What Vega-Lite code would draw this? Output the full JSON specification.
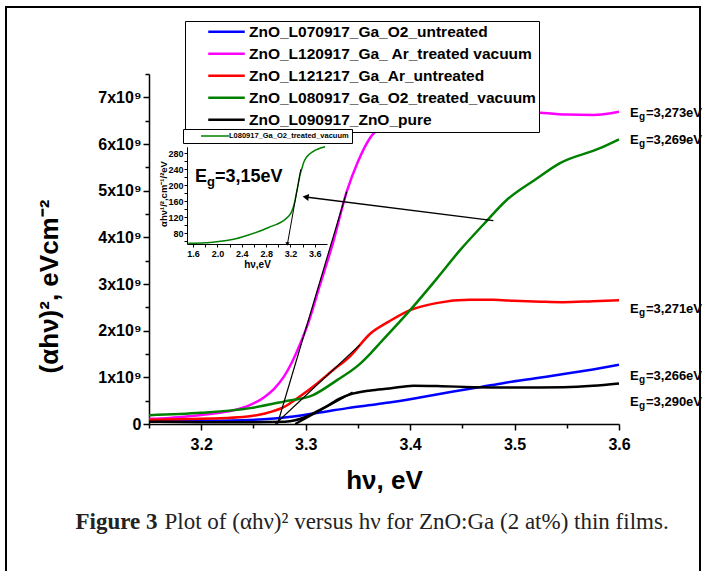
{
  "$schema": "https://vega.github.io/schema/vega-lite/v6.json",
  "width": 470,
  "height": 350,
  "autosize": {"type": "none"},
  "padding": {"left": 149, "top": 74, "right": 87, "bottom": 147},
  "config": {"view": {"stroke": null}, "font": "Liberation Sans"},
  "datasets": {
    "main": [
      {"s":"ZnO_L070917_Ga_O2_untreated","hv":3.15,"v":0.06e9},
      {"s":"ZnO_L070917_Ga_O2_untreated","hv":3.18,"v":0.065e9},
      {"s":"ZnO_L070917_Ga_O2_untreated","hv":3.21,"v":0.07e9},
      {"s":"ZnO_L070917_Ga_O2_untreated","hv":3.24,"v":0.08e9},
      {"s":"ZnO_L070917_Ga_O2_untreated","hv":3.26,"v":0.10e9},
      {"s":"ZnO_L070917_Ga_O2_untreated","hv":3.28,"v":0.14e9},
      {"s":"ZnO_L070917_Ga_O2_untreated","hv":3.30,"v":0.20e9},
      {"s":"ZnO_L070917_Ga_O2_untreated","hv":3.32,"v":0.27e9},
      {"s":"ZnO_L070917_Ga_O2_untreated","hv":3.34,"v":0.34e9},
      {"s":"ZnO_L070917_Ga_O2_untreated","hv":3.36,"v":0.40e9},
      {"s":"ZnO_L070917_Ga_O2_untreated","hv":3.38,"v":0.46e9},
      {"s":"ZnO_L070917_Ga_O2_untreated","hv":3.40,"v":0.53e9},
      {"s":"ZnO_L070917_Ga_O2_untreated","hv":3.42,"v":0.61e9},
      {"s":"ZnO_L070917_Ga_O2_untreated","hv":3.44,"v":0.69e9},
      {"s":"ZnO_L070917_Ga_O2_untreated","hv":3.467,"v":0.79e9},
      {"s":"ZnO_L070917_Ga_O2_untreated","hv":3.49,"v":0.88e9},
      {"s":"ZnO_L070917_Ga_O2_untreated","hv":3.52,"v":0.98e9},
      {"s":"ZnO_L070917_Ga_O2_untreated","hv":3.55,"v":1.08e9},
      {"s":"ZnO_L070917_Ga_O2_untreated","hv":3.575,"v":1.17e9},
      {"s":"ZnO_L070917_Ga_O2_untreated","hv":3.6,"v":1.27e9},
      {"s":"ZnO_L120917_Ga_ Ar_treated vacuum","hv":3.15,"v":0.11e9},
      {"s":"ZnO_L120917_Ga_ Ar_treated vacuum","hv":3.17,"v":0.13e9},
      {"s":"ZnO_L120917_Ga_ Ar_treated vacuum","hv":3.19,"v":0.17e9},
      {"s":"ZnO_L120917_Ga_ Ar_treated vacuum","hv":3.21,"v":0.22e9},
      {"s":"ZnO_L120917_Ga_ Ar_treated vacuum","hv":3.23,"v":0.29e9},
      {"s":"ZnO_L120917_Ga_ Ar_treated vacuum","hv":3.247,"v":0.41e9},
      {"s":"ZnO_L120917_Ga_ Ar_treated vacuum","hv":3.26,"v":0.57e9},
      {"s":"ZnO_L120917_Ga_ Ar_treated vacuum","hv":3.27,"v":0.76e9},
      {"s":"ZnO_L120917_Ga_ Ar_treated vacuum","hv":3.279,"v":1.01e9},
      {"s":"ZnO_L120917_Ga_ Ar_treated vacuum","hv":3.287,"v":1.33e9},
      {"s":"ZnO_L120917_Ga_ Ar_treated vacuum","hv":3.295,"v":1.73e9},
      {"s":"ZnO_L120917_Ga_ Ar_treated vacuum","hv":3.303,"v":2.2e9},
      {"s":"ZnO_L120917_Ga_ Ar_treated vacuum","hv":3.3137,"v":2.98e9},
      {"s":"ZnO_L120917_Ga_ Ar_treated vacuum","hv":3.326,"v":3.87e9},
      {"s":"ZnO_L120917_Ga_ Ar_treated vacuum","hv":3.3393,"v":4.98e9},
      {"s":"ZnO_L120917_Ga_ Ar_treated vacuum","hv":3.35,"v":5.62e9},
      {"s":"ZnO_L120917_Ga_ Ar_treated vacuum","hv":3.3616,"v":6.13e9},
      {"s":"ZnO_L120917_Ga_ Ar_treated vacuum","hv":3.375,"v":6.42e9},
      {"s":"ZnO_L120917_Ga_ Ar_treated vacuum","hv":3.39,"v":6.58e9},
      {"s":"ZnO_L120917_Ga_ Ar_treated vacuum","hv":3.42,"v":6.7e9},
      {"s":"ZnO_L120917_Ga_ Ar_treated vacuum","hv":3.46,"v":6.74e9},
      {"s":"ZnO_L120917_Ga_ Ar_treated vacuum","hv":3.49,"v":6.72e9},
      {"s":"ZnO_L120917_Ga_ Ar_treated vacuum","hv":3.52,"v":6.68e9},
      {"s":"ZnO_L120917_Ga_ Ar_treated vacuum","hv":3.55,"v":6.63e9},
      {"s":"ZnO_L120917_Ga_ Ar_treated vacuum","hv":3.575,"v":6.62e9},
      {"s":"ZnO_L120917_Ga_ Ar_treated vacuum","hv":3.6,"v":6.69e9},
      {"s":"ZnO_L121217_Ga_Ar_untreated","hv":3.15,"v":0.09e9},
      {"s":"ZnO_L121217_Ga_Ar_untreated","hv":3.18,"v":0.10e9},
      {"s":"ZnO_L121217_Ga_Ar_untreated","hv":3.21,"v":0.12e9},
      {"s":"ZnO_L121217_Ga_Ar_untreated","hv":3.24,"v":0.15e9},
      {"s":"ZnO_L121217_Ga_Ar_untreated","hv":3.26,"v":0.22e9},
      {"s":"ZnO_L121217_Ga_Ar_untreated","hv":3.279,"v":0.36e9},
      {"s":"ZnO_L121217_Ga_Ar_untreated","hv":3.295,"v":0.6e9},
      {"s":"ZnO_L121217_Ga_Ar_untreated","hv":3.311,"v":0.87e9},
      {"s":"ZnO_L121217_Ga_Ar_untreated","hv":3.326,"v":1.15e9},
      {"s":"ZnO_L121217_Ga_Ar_untreated","hv":3.342,"v":1.44e9},
      {"s":"ZnO_L121217_Ga_Ar_untreated","hv":3.362,"v":1.94e9},
      {"s":"ZnO_L121217_Ga_Ar_untreated","hv":3.38,"v":2.2e9},
      {"s":"ZnO_L121217_Ga_Ar_untreated","hv":3.4,"v":2.44e9},
      {"s":"ZnO_L121217_Ga_Ar_untreated","hv":3.425,"v":2.59e9},
      {"s":"ZnO_L121217_Ga_Ar_untreated","hv":3.457,"v":2.66e9},
      {"s":"ZnO_L121217_Ga_Ar_untreated","hv":3.48,"v":2.66e9},
      {"s":"ZnO_L121217_Ga_Ar_untreated","hv":3.499,"v":2.64e9},
      {"s":"ZnO_L121217_Ga_Ar_untreated","hv":3.525,"v":2.62e9},
      {"s":"ZnO_L121217_Ga_Ar_untreated","hv":3.546,"v":2.61e9},
      {"s":"ZnO_L121217_Ga_Ar_untreated","hv":3.575,"v":2.63e9},
      {"s":"ZnO_L121217_Ga_Ar_untreated","hv":3.6,"v":2.65e9},
      {"s":"ZnO_L080917_Ga_O2_treated_vacuum","hv":3.15,"v":0.19e9},
      {"s":"ZnO_L080917_Ga_O2_treated_vacuum","hv":3.2,"v":0.24e9},
      {"s":"ZnO_L080917_Ga_O2_treated_vacuum","hv":3.247,"v":0.34e9},
      {"s":"ZnO_L080917_Ga_O2_treated_vacuum","hv":3.279,"v":0.48e9},
      {"s":"ZnO_L080917_Ga_O2_treated_vacuum","hv":3.307,"v":0.62e9},
      {"s":"ZnO_L080917_Ga_O2_treated_vacuum","hv":3.33,"v":0.94e9},
      {"s":"ZnO_L080917_Ga_O2_treated_vacuum","hv":3.35,"v":1.25e9},
      {"s":"ZnO_L080917_Ga_O2_treated_vacuum","hv":3.362,"v":1.51e9},
      {"s":"ZnO_L080917_Ga_O2_treated_vacuum","hv":3.371,"v":1.73e9},
      {"s":"ZnO_L080917_Ga_O2_treated_vacuum","hv":3.4,"v":2.44e9},
      {"s":"ZnO_L080917_Ga_O2_treated_vacuum","hv":3.425,"v":3.1e9},
      {"s":"ZnO_L080917_Ga_O2_treated_vacuum","hv":3.448,"v":3.73e9},
      {"s":"ZnO_L080917_Ga_O2_treated_vacuum","hv":3.47,"v":4.27e9},
      {"s":"ZnO_L080917_Ga_O2_treated_vacuum","hv":3.4925,"v":4.80e9},
      {"s":"ZnO_L080917_Ga_O2_treated_vacuum","hv":3.52,"v":5.24e9},
      {"s":"ZnO_L080917_Ga_O2_treated_vacuum","hv":3.5435,"v":5.59e9},
      {"s":"ZnO_L080917_Ga_O2_treated_vacuum","hv":3.5818,"v":5.91e9},
      {"s":"ZnO_L080917_Ga_O2_treated_vacuum","hv":3.6,"v":6.10e9},
      {"s":"ZnO_L090917_ZnO_pure","hv":3.15,"v":0.05e9},
      {"s":"ZnO_L090917_ZnO_pure","hv":3.2,"v":0.04e9},
      {"s":"ZnO_L090917_ZnO_pure","hv":3.25,"v":0.04e9},
      {"s":"ZnO_L090917_ZnO_pure","hv":3.28,"v":0.05e9},
      {"s":"ZnO_L090917_ZnO_pure","hv":3.29,"v":0.08e9},
      {"s":"ZnO_L090917_ZnO_pure","hv":3.30,"v":0.15e9},
      {"s":"ZnO_L090917_ZnO_pure","hv":3.31,"v":0.26e9},
      {"s":"ZnO_L090917_ZnO_pure","hv":3.32,"v":0.38e9},
      {"s":"ZnO_L090917_ZnO_pure","hv":3.333,"v":0.55e9},
      {"s":"ZnO_L090917_ZnO_pure","hv":3.345,"v":0.65e9},
      {"s":"ZnO_L090917_ZnO_pure","hv":3.362,"v":0.72e9},
      {"s":"ZnO_L090917_ZnO_pure","hv":3.38,"v":0.76e9},
      {"s":"ZnO_L090917_ZnO_pure","hv":3.403,"v":0.82e9},
      {"s":"ZnO_L090917_ZnO_pure","hv":3.43,"v":0.81e9},
      {"s":"ZnO_L090917_ZnO_pure","hv":3.461,"v":0.79e9},
      {"s":"ZnO_L090917_ZnO_pure","hv":3.5,"v":0.78e9},
      {"s":"ZnO_L090917_ZnO_pure","hv":3.547,"v":0.79e9},
      {"s":"ZnO_L090917_ZnO_pure","hv":3.575,"v":0.82e9},
      {"s":"ZnO_L090917_ZnO_pure","hv":3.6,"v":0.87e9}
    ],
    "tangents": [
      {"seg":"m","w":1.2,"hv":3.273,"v":0},
      {"seg":"m","w":1.2,"hv":3.3393,"v":4.98e9},
      {"seg":"r","w":1.2,"hv":3.271,"v":0},
      {"seg":"r","w":1.2,"hv":3.352,"v":1.70e9},
      {"seg":"k","w":2,"hv":3.29,"v":0},
      {"seg":"k","w":2,"hv":3.345,"v":0.68e9}
    ],
    "arrow": [
      {"p":"tail","hv":3.4797,"v":4.356e9},
      {"p":"head","hv":3.300,"v":4.864e9}
    ],
    "labels": [
      {"hv":3.6,"v":6.67e9,"t":"=3,273eV"},
      {"hv":3.6,"v":6.085e9,"t":"=3,269eV"},
      {"hv":3.6,"v":2.458e9,"t":"=3,271eV"},
      {"hv":3.6,"v":1.03e9,"t":"=3,266eV"},
      {"hv":3.6,"v":0.478e9,"t":"=3,290eV"}
    ],
    "inset": [
      {"s":"L080917_Ga_O2_treated_vacuum","hv":1.52,"v":54.8},
      {"s":"L080917_Ga_O2_treated_vacuum","hv":1.8,"v":56},
      {"s":"L080917_Ga_O2_treated_vacuum","hv":1.99,"v":58.8},
      {"s":"L080917_Ga_O2_treated_vacuum","hv":2.15,"v":62},
      {"s":"L080917_Ga_O2_treated_vacuum","hv":2.32,"v":67},
      {"s":"L080917_Ga_O2_treated_vacuum","hv":2.5,"v":75},
      {"s":"L080917_Ga_O2_treated_vacuum","hv":2.7,"v":85.5},
      {"s":"L080917_Ga_O2_treated_vacuum","hv":2.85,"v":95},
      {"s":"L080917_Ga_O2_treated_vacuum","hv":2.97,"v":102},
      {"s":"L080917_Ga_O2_treated_vacuum","hv":3.08,"v":111},
      {"s":"L080917_Ga_O2_treated_vacuum","hv":3.16,"v":121},
      {"s":"L080917_Ga_O2_treated_vacuum","hv":3.22,"v":134},
      {"s":"L080917_Ga_O2_treated_vacuum","hv":3.27,"v":159},
      {"s":"L080917_Ga_O2_treated_vacuum","hv":3.30,"v":182},
      {"s":"L080917_Ga_O2_treated_vacuum","hv":3.33,"v":205},
      {"s":"L080917_Ga_O2_treated_vacuum","hv":3.36,"v":228},
      {"s":"L080917_Ga_O2_treated_vacuum","hv":3.38,"v":238},
      {"s":"L080917_Ga_O2_treated_vacuum","hv":3.42,"v":258},
      {"s":"L080917_Ga_O2_treated_vacuum","hv":3.47,"v":271},
      {"s":"L080917_Ga_O2_treated_vacuum","hv":3.57,"v":284},
      {"s":"L080917_Ga_O2_treated_vacuum","hv":3.77,"v":296}
    ],
    "insetTangent": [
      {"p":"head","hv":3.15,"v":53},
      {"p":"top","hv":3.37,"v":240}
    ],
    "insetText": [
      {"hv":1.631,"v":221,"t":"=3,15eV"}
    ]
  },
  "layer": [
    {
      "encoding": {
        "x": {
          "field": "hv", "type": "quantitative",
          "scale": {"domain": [3.15, 3.6], "nice": false, "zero": false},
          "axis": {
            "orient": "bottom",
            "values": [3.15, 3.2, 3.25, 3.3, 3.35, 3.4, 3.45, 3.5, 3.55, 3.6],
            "labelExpr": "abs(datum.value*10 - round(datum.value*10)) < 0.001 ? format(datum.value, '.1f') : ''",
            "tickSize": {"condition": {"test": "abs(datum.value*10 - round(datum.value*10)) < 0.001", "value": 6}, "value": 4},
            "grid": false,
            "labelFont": "Liberation Sans", "labelFontSize": 16, "labelFontWeight": "bold", "labelColor": "black",
            "labelPadding": 6, "labelFlush": false, "labelOverlap": false,
            "domainColor": "black", "domainWidth": 1.5, "tickColor": "black", "tickWidth": 1.5,
            "title": "hν, eV", "titleFont": "Liberation Sans", "titleFontSize": 26, "titleFontWeight": "bold", "titleColor": "black",
            "titleY": 56, "titleBaseline": "middle"
          }
        },
        "y": {
          "field": "v", "type": "quantitative",
          "scale": {"domain": [0, 7.5e9], "nice": false, "zero": false},
          "axis": {
            "orient": "left",
            "values": [0, 0.5e9, 1e9, 1.5e9, 2e9, 2.5e9, 3e9, 3.5e9, 4e9, 4.5e9, 5e9, 5.5e9, 6e9, 6.5e9, 7e9, 7.5e9],
            "labelExpr": "datum.value == 0 ? '0' : (datum.value % 1000000000 == 0 ? format(datum.value/1000000000, 'd') + 'x10⁹' : '')",
            "tickSize": {"condition": {"test": "datum.value % 1000000000 == 0", "value": 6}, "value": 4},
            "grid": false,
            "labelFont": "Liberation Sans", "labelFontSize": 16, "labelFontWeight": "bold", "labelColor": "black",
            "labelPadding": 2, "labelFlush": false, "labelOverlap": false,
            "domainColor": "black", "domainWidth": 1.5, "tickColor": "black", "tickWidth": 1.5,
            "title": "(αhν)², eVcm⁻²", "titleFont": "Liberation Sans", "titleFontSize": 26, "titleFontWeight": "bold", "titleColor": "black",
            "titleAngle": 270, "titleX": -100, "titleY": 212, "titleAlign": "center", "titleBaseline": "middle"
          }
        }
      },
      "layer": [
        {
          "data": {"name": "main"},
          "mark": {"type": "line", "strokeWidth": 2.5, "interpolate": "monotone"},
          "encoding": {
            "color": {
              "field": "s", "type": "nominal",
              "scale": {
                "domain": ["ZnO_L070917_Ga_O2_untreated", "ZnO_L120917_Ga_ Ar_treated vacuum", "ZnO_L121217_Ga_Ar_untreated", "ZnO_L080917_Ga_O2_treated_vacuum", "ZnO_L090917_ZnO_pure"],
                "range": ["#0000ff", "#ff00ff", "#ff0000", "#008000", "#000000"]
              },
              "legend": {
                "orient": "none", "legendX": 36, "legendY": -53, "title": null,
                "fillColor": "white", "strokeColor": "black", "padding": 3,
                "symbolType": "M-1,0H6.3", "symbolSize": 100, "symbolStrokeWidth": 2.5, "symbolOffset": 17.5,
                "labelOffset": 28, "labelFont": "Liberation Sans", "labelFontSize": 15.5, "labelFontWeight": "bold", "labelColor": "black",
                "labelLimit": 500, "rowPadding": 5
              }
            }
          }
        },
        {
          "data": {"name": "tangents"},
          "mark": {"type": "line", "color": "black"},
          "encoding": {
            "detail": {"field": "seg", "type": "nominal"},
            "strokeWidth": {"field": "w", "type": "quantitative", "scale": null}
          }
        },
        {
          "data": {"name": "arrow"},
          "mark": {"type": "line", "color": "black", "strokeWidth": 1.3},
          "encoding": {}
        },
        {
          "data": {"name": "arrow"},
          "transform": [{"filter": "datum.p == 'head'"}],
          "mark": {"type": "point", "shape": "triangle-left", "angle": 7.5, "filled": true, "color": "black", "size": 50, "opacity": 1},
          "encoding": {}
        },
        {
          "data": {"name": "labels"},
          "mark": {"type": "text", "text": "E", "align": "left", "baseline": "middle", "dx": 11, "font": "Liberation Sans", "fontSize": 13, "fontWeight": "bold", "color": "black"},
          "encoding": {}
        },
        {
          "data": {"name": "labels"},
          "mark": {"type": "text", "text": "g", "align": "left", "baseline": "middle", "dx": 20, "dy": 4, "font": "Liberation Sans", "fontSize": 10, "fontWeight": "bold", "color": "black"},
          "encoding": {}
        },
        {
          "data": {"name": "labels"},
          "mark": {"type": "text", "align": "left", "baseline": "middle", "dx": 27, "font": "Liberation Sans", "fontSize": 13, "fontWeight": "bold", "color": "black"},
          "encoding": {"text": {"field": "t"}}
        }
      ]
    },
    {
      "encoding": {
        "x": {
          "field": "hv", "type": "quantitative",
          "scale": {"domain": [1.5, 3.8], "range": [38, 178], "nice": false, "zero": false},
          "axis": {
            "orient": "bottom", "offset": -180,
            "values": [1.6, 1.8, 2.0, 2.2, 2.4, 2.6, 2.8, 3.0, 3.2, 3.4, 3.6],
            "labelExpr": "round(datum.value*10) % 4 == 0 ? format(datum.value, '.1f') : ''",
            "tickSize": 3, "grid": false,
            "labelFont": "Liberation Sans", "labelFontSize": 9, "labelFontWeight": "bold", "labelColor": "black",
            "labelPadding": 2, "labelFlush": false, "labelOverlap": false,
            "domainColor": "black", "domainWidth": 1, "tickColor": "black", "tickWidth": 1,
            "title": "hν,eV", "titleFont": "Liberation Sans", "titleFontSize": 10, "titleFontWeight": "bold", "titleColor": "black",
            "titlePadding": 1
          }
        },
        "y": {
          "field": "v", "type": "quantitative",
          "scale": {"domain": [53, 296], "range": [170, 72.8], "nice": false, "zero": false},
          "axis": {
            "orient": "left", "offset": -38,
            "values": [60, 80, 100, 120, 140, 160, 180, 200, 220, 240, 260, 280],
            "labelExpr": "datum.value % 40 == 0 ? '' + datum.value : ''",
            "tickSize": 3, "grid": false,
            "labelFont": "Liberation Sans", "labelFontSize": 9, "labelFontWeight": "bold", "labelColor": "black",
            "labelPadding": 1, "labelFlush": false, "labelOverlap": false,
            "domainColor": "black", "domainWidth": 1, "tickColor": "black", "tickWidth": 1,
            "title": "αhν¹/²,cm⁻¹/²eV", "titleFont": "Liberation Sans", "titleFontSize": 9.5, "titleFontWeight": "bold", "titleColor": "black",
            "titleAngle": 270, "titleX": -24, "titleY": 119.5, "titleAlign": "center", "titleBaseline": "middle"
          }
        }
      },
      "layer": [
        {
          "data": {"name": "inset"},
          "mark": {"type": "line", "strokeWidth": 1.5, "interpolate": "monotone"},
          "encoding": {
            "color": {
              "field": "s", "type": "nominal",
              "scale": {"domain": ["L080917_Ga_O2_treated_vacuum"], "range": ["#008000"]},
              "legend": {
                "orient": "none", "legendX": 34, "legendY": 55, "title": null,
                "fillColor": "white", "strokeColor": "black", "padding": 3,
                "symbolType": "M-1,0H8.33", "symbolSize": 36, "symbolStrokeWidth": 1.5, "symbolOffset": 14,
                "labelOffset": 21, "labelFont": "Liberation Sans", "labelFontSize": 7.5, "labelFontWeight": "bold", "labelColor": "black",
                "labelLimit": 300
              }
            }
          }
        },
        {
          "data": {"name": "insetTangent"},
          "mark": {"type": "line", "color": "black", "strokeWidth": 1},
          "encoding": {}
        },
        {
          "data": {"name": "insetTangent"},
          "transform": [{"filter": "datum.p == 'head'"}],
          "mark": {"type": "point", "shape": "triangle-down", "filled": true, "color": "black", "size": 18, "opacity": 1, "dy": -3},
          "encoding": {}
        },
        {
          "data": {"name": "insetText"},
          "mark": {"type": "text", "text": "E", "align": "left", "baseline": "middle", "font": "Liberation Sans", "fontSize": 18, "fontWeight": "bold", "color": "black"},
          "encoding": {}
        },
        {
          "data": {"name": "insetText"},
          "mark": {"type": "text", "text": "g", "align": "left", "baseline": "middle", "dx": 12, "dy": 5, "font": "Liberation Sans", "fontSize": 13, "fontWeight": "bold", "color": "black"},
          "encoding": {}
        },
        {
          "data": {"name": "insetText"},
          "mark": {"type": "text", "align": "left", "baseline": "middle", "dx": 20, "font": "Liberation Sans", "fontSize": 18, "fontWeight": "bold", "color": "black"},
          "encoding": {"text": {"field": "t"}}
        }
      ]
    },
    {
      "data": {"values": [{"a": 0, "b": 1}]},
      "mark": {"type": "rect", "fill": null, "stroke": "black", "strokeWidth": 2},
      "encoding": {
        "x": {
          "field": "a", "type": "quantitative",
          "scale": {"domain": [0, 1], "range": [-143, 551], "nice": false, "zero": false},
          "axis": {
            "orient": "bottom", "domain": false, "ticks": false, "labels": false, "grid": false,
            "title": "Plot of (αhν)² versus hν for ZnO:Ga (2 at%) thin films.",
            "titleFont": "Liberation Serif", "titleFontSize": 23, "titleFontWeight": "normal", "titleColor": "#222222",
            "titleX": 15, "titleY": 104, "titleAlign": "left", "titleBaseline": "alphabetic", "titleAngle": 0
          }
        },
        "x2": {"field": "b"},
        "y": {
          "field": "a", "type": "quantitative",
          "scale": {"domain": [0, 1], "range": [-67, 501], "nice": false, "zero": false},
          "axis": {
            "orient": "left", "domain": false, "ticks": false, "labels": false, "grid": false,
            "title": "Figure 3",
            "titleFont": "Liberation Serif", "titleFontSize": 23, "titleFontWeight": "bold", "titleColor": "#222222",
            "titleX": -74, "titleY": 454, "titleAlign": "left", "titleBaseline": "alphabetic", "titleAngle": 0
          }
        },
        "y2": {"field": "b"}
      }
    }
  ],
  "resolve": {
    "scale": {"x": "independent", "y": "independent", "color": "independent"},
    "axis": {"x": "independent", "y": "independent"},
    "legend": {"color": "independent"}
  }
}
